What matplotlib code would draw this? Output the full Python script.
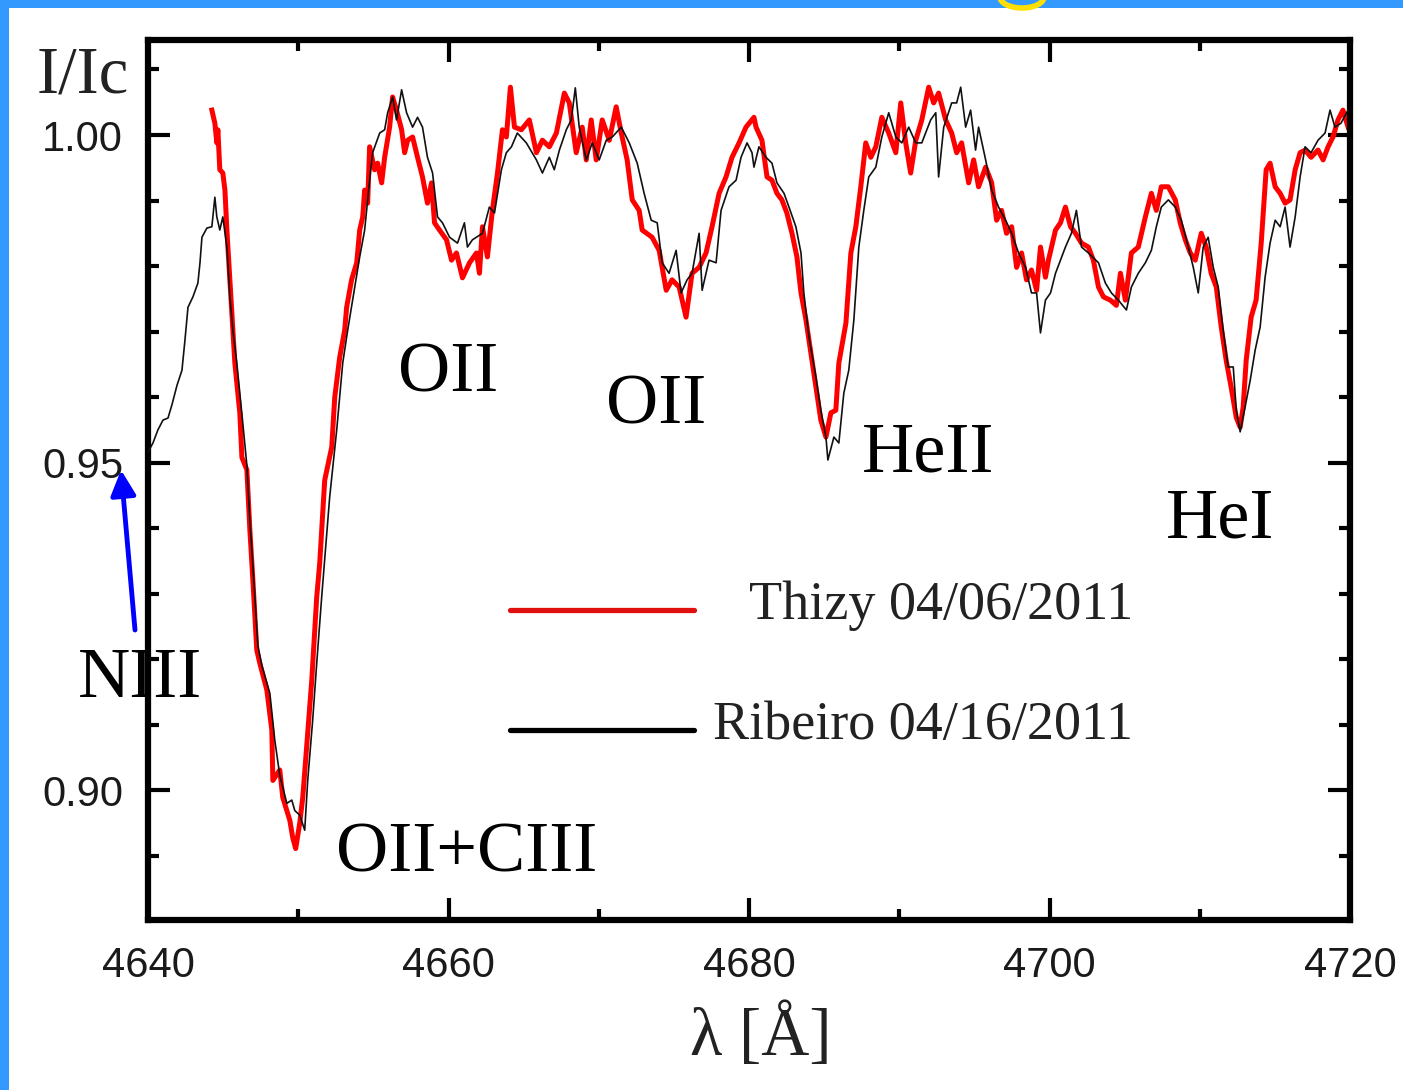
import matplotlib
matplotlib.use("Agg")
import matplotlib.pyplot as plt
from matplotlib.ticker import MultipleLocator, FormatStrFormatter
from matplotlib.patches import Rectangle, Arc

# ---------------- data ----------------
thizy_wl = [4644.25, 4644.45, 4644.58, 4644.65, 4644.78, 4644.98, 4645.12, 4645.25, 4645.45, 4645.65,
            4645.78, 4646.11, 4646.25, 4646.58, 4646.78, 4646.98, 4647.24, 4647.44, 4647.91, 4648.24,
            4648.31, 4648.77, 4648.97, 4649.44, 4649.63, 4649.83, 4650.10, 4650.30, 4650.56, 4650.90,
            4651.23, 4651.43, 4651.76, 4652.23, 4652.43, 4652.76, 4653.09, 4653.22, 4653.55, 4653.89,
            4654.09, 4654.29, 4654.42, 4654.62, 4654.75, 4655.08, 4655.28, 4655.55, 4655.75, 4656.08,
            4656.28, 4656.54, 4656.88, 4657.08, 4657.28, 4657.61, 4657.94, 4658.27, 4658.60, 4658.87,
            4659.07, 4659.40, 4659.87, 4660.20, 4660.53, 4660.93, 4661.40, 4661.86, 4662.06, 4662.26,
            4662.59, 4662.92, 4663.26, 4663.59, 4663.85, 4664.12, 4664.39, 4664.85, 4665.38, 4665.85,
            4666.25, 4666.71, 4667.18, 4667.71, 4668.04, 4668.50, 4668.90, 4669.17, 4669.50, 4669.83,
            4670.23, 4670.70, 4671.16, 4671.50, 4671.89, 4672.23, 4672.69, 4672.89, 4673.55, 4674.02,
            4674.49, 4674.88, 4675.35, 4675.81, 4676.21, 4676.68, 4677.14, 4677.54, 4678.01, 4678.47,
            4678.87, 4679.34, 4679.80, 4680.33, 4680.47, 4680.86, 4681.20, 4681.53, 4681.86, 4682.19,
            4682.52, 4682.86, 4683.19, 4683.46, 4683.79, 4684.12, 4684.45, 4684.78, 4685.12, 4685.45,
            4685.78, 4685.98, 4686.45, 4686.78, 4687.11, 4687.44, 4687.77, 4688.11, 4688.44, 4688.84,
            4689.30, 4689.77, 4690.10, 4690.43, 4690.76, 4691.10, 4691.50, 4691.96, 4692.29, 4692.62,
            4693.09, 4693.49, 4693.82, 4694.15, 4694.62, 4694.95, 4695.28, 4695.75, 4696.15, 4696.48,
            4696.81, 4697.14, 4697.48, 4697.81, 4698.14, 4698.47, 4698.80, 4699.14, 4699.40, 4699.73,
            4699.93, 4700.40, 4700.73, 4701.06, 4701.40, 4701.73, 4702.13, 4702.59, 4702.92, 4703.26,
            4703.59, 4704.05, 4704.45, 4704.72, 4705.05, 4705.45, 4705.91, 4706.38, 4706.78, 4707.11,
            4707.44, 4707.91, 4708.37, 4708.70, 4709.04, 4709.37, 4709.70, 4710.10, 4710.43, 4710.76,
            4711.10, 4711.43, 4711.76, 4712.09, 4712.43, 4712.69, 4712.89, 4713.09, 4713.42, 4713.75,
            4714.09, 4714.42, 4714.68, 4715.02, 4715.35, 4715.68, 4716.01, 4716.35, 4716.68, 4717.01,
            4717.41, 4717.87, 4718.21, 4718.54, 4718.87, 4719.20, 4719.53, 4719.87]
thizy_flux = [1.0038, 1.0018, 0.9988, 1.0008, 0.9947, 0.9942, 0.9916, 0.9855, 0.9779, 0.9702,
              0.9652, 0.9576, 0.9508, 0.9489, 0.9397, 0.9321, 0.9214, 0.9194, 0.9153, 0.9092,
              0.9015, 0.9031, 0.8989, 0.8954, 0.8928, 0.8911, 0.8950, 0.8989, 0.9066, 0.9168,
              0.9295, 0.9347, 0.9473, 0.9524, 0.9600, 0.9661, 0.9702, 0.9737, 0.9779, 0.9805,
              0.9855, 0.9875, 0.9916, 0.9896, 0.9982, 0.9947, 0.9957, 0.9927, 0.9966, 1.0012,
              1.0058, 1.0038, 1.0008, 0.9973, 0.9992, 0.9997, 0.9966, 0.9936, 0.9896, 0.9927,
              0.9866, 0.9855, 0.9840, 0.9809, 0.9820, 0.9782, 0.9805, 0.9820, 0.9789, 0.9860,
              0.9814, 0.9885, 0.9942, 1.0008, 0.9997, 1.0073, 1.0012, 1.0008, 1.0023, 0.9973,
              0.9992, 0.9982, 1.0003, 1.0064, 1.0049, 0.9973, 1.0012, 0.9962, 1.0023, 0.9962,
              1.0023, 0.9992, 1.0043, 1.0003, 0.9962, 0.9901, 0.9885, 0.9855, 0.9844, 0.9824,
              0.9763, 0.9779, 0.9768, 0.9722, 0.9789, 0.9798, 0.9820, 0.9860, 0.9911, 0.9936,
              0.9966, 0.9988, 1.0012, 1.0027, 1.0012, 0.9992, 0.9936, 0.9931, 0.9911, 0.9901,
              0.9881, 0.9850, 0.9814, 0.9759, 0.9718, 0.9667, 0.9615, 0.9565, 0.9539, 0.9576,
              0.9580, 0.9652, 0.9713, 0.9820, 0.9860, 0.9921, 0.9988, 0.9966, 0.9982, 1.0027,
              1.0003, 0.9973, 1.0049, 0.9988, 0.9942, 0.9992, 1.0023, 1.0073, 1.0049, 1.0064,
              1.0023, 1.0003, 0.9973, 0.9988, 0.9927, 0.9962, 0.9921, 0.9951, 0.9927, 0.9870,
              0.9885, 0.9850, 0.9860, 0.9798, 0.9820, 0.9779, 0.9794, 0.9763, 0.9829, 0.9783,
              0.9809, 0.9855, 0.9866, 0.9890, 0.9860, 0.9850, 0.9835, 0.9829, 0.9809, 0.9768,
              0.9753, 0.9748, 0.9740, 0.9789, 0.9748, 0.9820, 0.9829, 0.9875, 0.9911, 0.9885,
              0.9921, 0.9921, 0.9901, 0.9866, 0.9840, 0.9820, 0.9809, 0.9850, 0.9829, 0.9789,
              0.9768, 0.9707, 0.9656, 0.9615, 0.9569, 0.9554, 0.9585, 0.9656, 0.9722, 0.9748,
              0.9835, 0.9947, 0.9957, 0.9921, 0.9911, 0.9896, 0.9901, 0.9947, 0.9973, 0.9977,
              0.9966, 0.9977, 0.9962, 0.9982, 0.9997, 1.0023, 1.0038, 1.0012]

ribeiro_wl = [4640.00, 4640.33, 4640.66, 4641.00, 4641.33, 4641.59, 4641.93, 4642.26, 4642.46, 4642.66,
              4642.99, 4643.32, 4643.46, 4643.59, 4643.92, 4644.25, 4644.45, 4644.58, 4644.78, 4644.98,
              4645.25, 4645.45, 4645.65, 4645.91, 4646.31, 4646.58, 4646.78, 4647.04, 4647.31, 4647.57,
              4648.11, 4648.44, 4648.77, 4649.24, 4649.57, 4649.77, 4650.10, 4650.43, 4650.63, 4650.96,
              4651.23, 4651.56, 4652.09, 4652.56, 4652.96, 4653.29, 4653.62, 4654.09, 4654.42, 4654.75,
              4654.95, 4655.42, 4655.75, 4655.95, 4656.28, 4656.54, 4656.88, 4657.21, 4657.61, 4657.94,
              4658.27, 4658.60, 4658.94, 4659.27, 4659.60, 4660.07, 4660.60, 4661.06, 4661.26, 4661.59,
              4662.26, 4662.72, 4663.06, 4663.52, 4663.85, 4664.19, 4664.58, 4665.18, 4665.85, 4666.25,
              4666.71, 4667.04, 4667.38, 4667.84, 4668.17, 4668.44, 4668.70, 4669.17, 4669.57, 4670.03,
              4670.50, 4670.90, 4671.50, 4672.03, 4672.56, 4673.02, 4673.49, 4673.89, 4674.22, 4674.68,
              4675.15, 4675.48, 4675.88, 4676.21, 4676.68, 4676.88, 4677.34, 4677.81, 4678.14, 4678.67,
              4679.14, 4679.47, 4679.87, 4680.20, 4680.33, 4680.66, 4681.13, 4681.53, 4681.86, 4682.33,
              4682.66, 4683.12, 4683.46, 4683.65, 4683.99, 4684.45, 4684.78, 4685.12, 4685.25, 4685.65,
              4685.98, 4686.31, 4686.64, 4686.98, 4687.31, 4687.64, 4687.97, 4688.44, 4688.84, 4689.30,
              4689.77, 4690.17, 4690.63, 4691.10, 4691.50, 4692.09, 4692.43, 4692.62, 4692.96, 4693.49,
              4693.82, 4694.09, 4694.42, 4694.75, 4695.08, 4695.28, 4695.75, 4696.15, 4696.61, 4697.08,
              4697.48, 4697.94, 4698.41, 4698.80, 4699.14, 4699.40, 4699.73, 4700.07, 4700.40, 4700.73,
              4701.06, 4701.46, 4701.79, 4702.13, 4702.59, 4703.26, 4703.72, 4704.12, 4704.58, 4705.12,
              4705.45, 4705.91, 4706.38, 4706.78, 4707.11, 4707.44, 4707.91, 4708.37, 4708.77, 4709.24,
              4709.57, 4709.90, 4710.23, 4710.56, 4710.90, 4711.23, 4711.56, 4711.89, 4712.23, 4712.43,
              4712.69, 4713.02, 4713.36, 4713.69, 4714.02, 4714.35, 4714.68, 4715.02, 4715.35, 4715.68,
              4716.01, 4716.35, 4716.68, 4717.01, 4717.41, 4717.87, 4718.34, 4718.67, 4719.00, 4719.40,
              4719.87]
ribeiro_flux = [0.9516, 0.9530, 0.9550, 0.9565, 0.9568, 0.9588, 0.9618, 0.9641, 0.9687, 0.9737,
                0.9753, 0.9774, 0.9805, 0.9844, 0.9858, 0.9860, 0.9905, 0.9875, 0.9855, 0.9875,
                0.9829, 0.9753, 0.9702, 0.9652, 0.9560, 0.9496, 0.9412, 0.9321, 0.9221, 0.9191,
                0.9148, 0.9076, 0.9023, 0.8980, 0.8985, 0.8969, 0.8962, 0.8939, 0.9015, 0.9107,
                0.9194, 0.9295, 0.9447, 0.9550, 0.9652, 0.9702, 0.9748, 0.9814, 0.9855, 0.9931,
                0.9973, 1.0003, 1.0008, 1.0034, 1.0058, 1.0023, 1.0069, 1.0034, 1.0012, 1.0027,
                1.0012, 0.9966, 0.9942, 0.9875, 0.9866, 0.9844, 0.9835, 0.9866, 0.9829, 0.9840,
                0.9850, 0.9890, 0.9881, 0.9947, 0.9973, 0.9982, 1.0003, 0.9988, 0.9962, 0.9942,
                0.9966, 0.9947, 0.9977, 1.0008, 1.0023, 1.0072, 1.0012, 0.9962, 0.9988, 0.9962,
                0.9992, 0.9997, 1.0012, 0.9988, 0.9957, 0.9911, 0.9870, 0.9866, 0.9805, 0.9789,
                0.9824, 0.9759, 0.9779, 0.9789, 0.9850, 0.9763, 0.9809, 0.9805, 0.9885, 0.9921,
                0.9931, 0.9966, 0.9988, 0.9973, 0.9951, 0.9982, 0.9966, 0.9957, 0.9927, 0.9911,
                0.9890, 0.9860, 0.9820, 0.9759, 0.9692, 0.9631, 0.9580, 0.9539, 0.9504, 0.9539,
                0.9530, 0.9606, 0.9641, 0.9718, 0.9829, 0.9885, 0.9936, 0.9951, 0.9997, 1.0034,
                0.9997, 0.9988, 1.0012, 0.9988, 0.9988, 1.0023, 1.0034, 0.9936, 1.0012, 1.0049,
                1.0049, 1.0073, 1.0012, 1.0038, 0.9977, 1.0012, 0.9962, 0.9916, 0.9890, 0.9870,
                0.9850, 0.9820, 0.9798, 0.9759, 0.9759, 0.9698, 0.9748, 0.9759, 0.9789, 0.9809,
                0.9829, 0.9850, 0.9885, 0.9829, 0.9820, 0.9805, 0.9774, 0.9759, 0.9748, 0.9733,
                0.9768, 0.9789, 0.9805, 0.9824, 0.9860, 0.9890, 0.9901, 0.9890, 0.9870, 0.9829,
                0.9798, 0.9759, 0.9829, 0.9844, 0.9798, 0.9768, 0.9702, 0.9646, 0.9646, 0.9580,
                0.9547, 0.9585, 0.9626, 0.9672, 0.9707, 0.9783, 0.9835, 0.9870, 0.9860, 0.9890,
                0.9829, 0.9875, 0.9936, 0.9982, 0.9973, 0.9992, 1.0003, 1.0038, 1.0012, 1.0018,
                1.0038]

series_labels = ["Thizy 04/06/2011", "Ribeiro 04/16/2011"]
line_labels = ["OII", "OII", "HeII", "HeI", "NIII", "OII+CIII"]
x_ticks = [4640, 4660, 4680, 4700, 4720]
y_ticks = [0.90, 0.95, 1.00]

# ---------------- figure ----------------
W, H = 1403, 1090
fig = plt.figure(figsize=(W / 100, H / 100), dpi=100)
fig.patch.set_facecolor("#3399FF")
fig.patches.append(Rectangle((9 / W, 0), 1 - 9 / W, 1 - 8 / H, transform=fig.transFigure,
                             facecolor="white", edgecolor="none", zorder=-20))
fig.patches.append(Arc((1022 / W, 1 + 3 / H), 44 / W, 22 / H, theta1=180, theta2=360,
                       transform=fig.transFigure, color="#FFE000", lw=4, zorder=-10))

ax = fig.add_axes([148 / W, 1 - 920 / H, (1350 - 148) / W, (920 - 40) / H])
ax.set_facecolor("white")

ax.plot(thizy_wl, thizy_flux, color="#FF0000", lw=3.6, zorder=2)
ax.plot(ribeiro_wl, ribeiro_flux, color="#111111", lw=1.2, zorder=3)

ax.set_xlim(4640, 4720)
ax.set_ylim(0.8802, 1.0145)

ax.xaxis.set_minor_locator(MultipleLocator(10))
ax.yaxis.set_minor_locator(MultipleLocator(0.01))
ax.set_xticks(x_ticks)
ax.set_yticks(y_ticks)
ax.yaxis.set_major_formatter(FormatStrFormatter("%.2f"))

for s in ax.spines.values():
    s.set_linewidth(4.5)
    s.set_color("black")

ax.tick_params(which="both", direction="in", top=True, right=True, width=3, color="black")
ax.tick_params(which="major", length=16)
ax.tick_params(which="minor", length=8)
ax.tick_params(axis="x", which="major", pad=19)
ax.tick_params(axis="y", which="major", pad=18)
for lab in ax.get_xticklabels() + ax.get_yticklabels():
    lab.set_fontfamily(["Liberation Sans", "DejaVu Sans"])
    lab.set_fontsize(30)
    lab.set_color("#1a1a1a")

serif = ["Liberation Serif", "DejaVu Serif"]

def ftxt(x, y, s, size, ha="left", va="baseline", color="black"):
    fig.text(x / W, 1 - y / H, s, fontsize=size, ha=ha, va=va, color=color,
             family=serif, zorder=10)

# axis labels
ftxt(37, 93, "I/Ic", 48, color="#222222")
ftxt(761, 1055, "λ [Å]", 48, ha="center", color="#222222")

# line annotations
ann_pos = [(448, 392), (656, 424), (928, 471), (1220, 537), (140, 697), (467, 872)]
for s, (x, y) in zip(line_labels, ann_pos):
    ftxt(x, y, s, 52, ha="center")

# legend drawn by hand
leg_y = [610, 730]
leg_colors = ["#E01010", "#000000"]
for lab, y, c in zip(series_labels, leg_y, leg_colors):
    fig.add_artist(plt.Line2D([510 / W, 694 / W], [1 - y / H, 1 - y / H], color=c, lw=3.8,
                              transform=fig.transFigure, solid_capstyle="round", zorder=5))
    ftxt(1133, y + 9, lab, 39, ha="right", color="#222222")

# blue arrow for NIII
ax.annotate("", xy=(121, H - 470), xycoords="figure pixels",
            xytext=(135, H - 630), textcoords="figure pixels",
            arrowprops=dict(arrowstyle="-|>", color="#0000FF", lw=3.5,
                            mutation_scale=38, shrinkA=0, shrinkB=0),
            annotation_clip=False, zorder=11)

fig.savefig("out.png", dpi=100, facecolor=fig.get_facecolor())
